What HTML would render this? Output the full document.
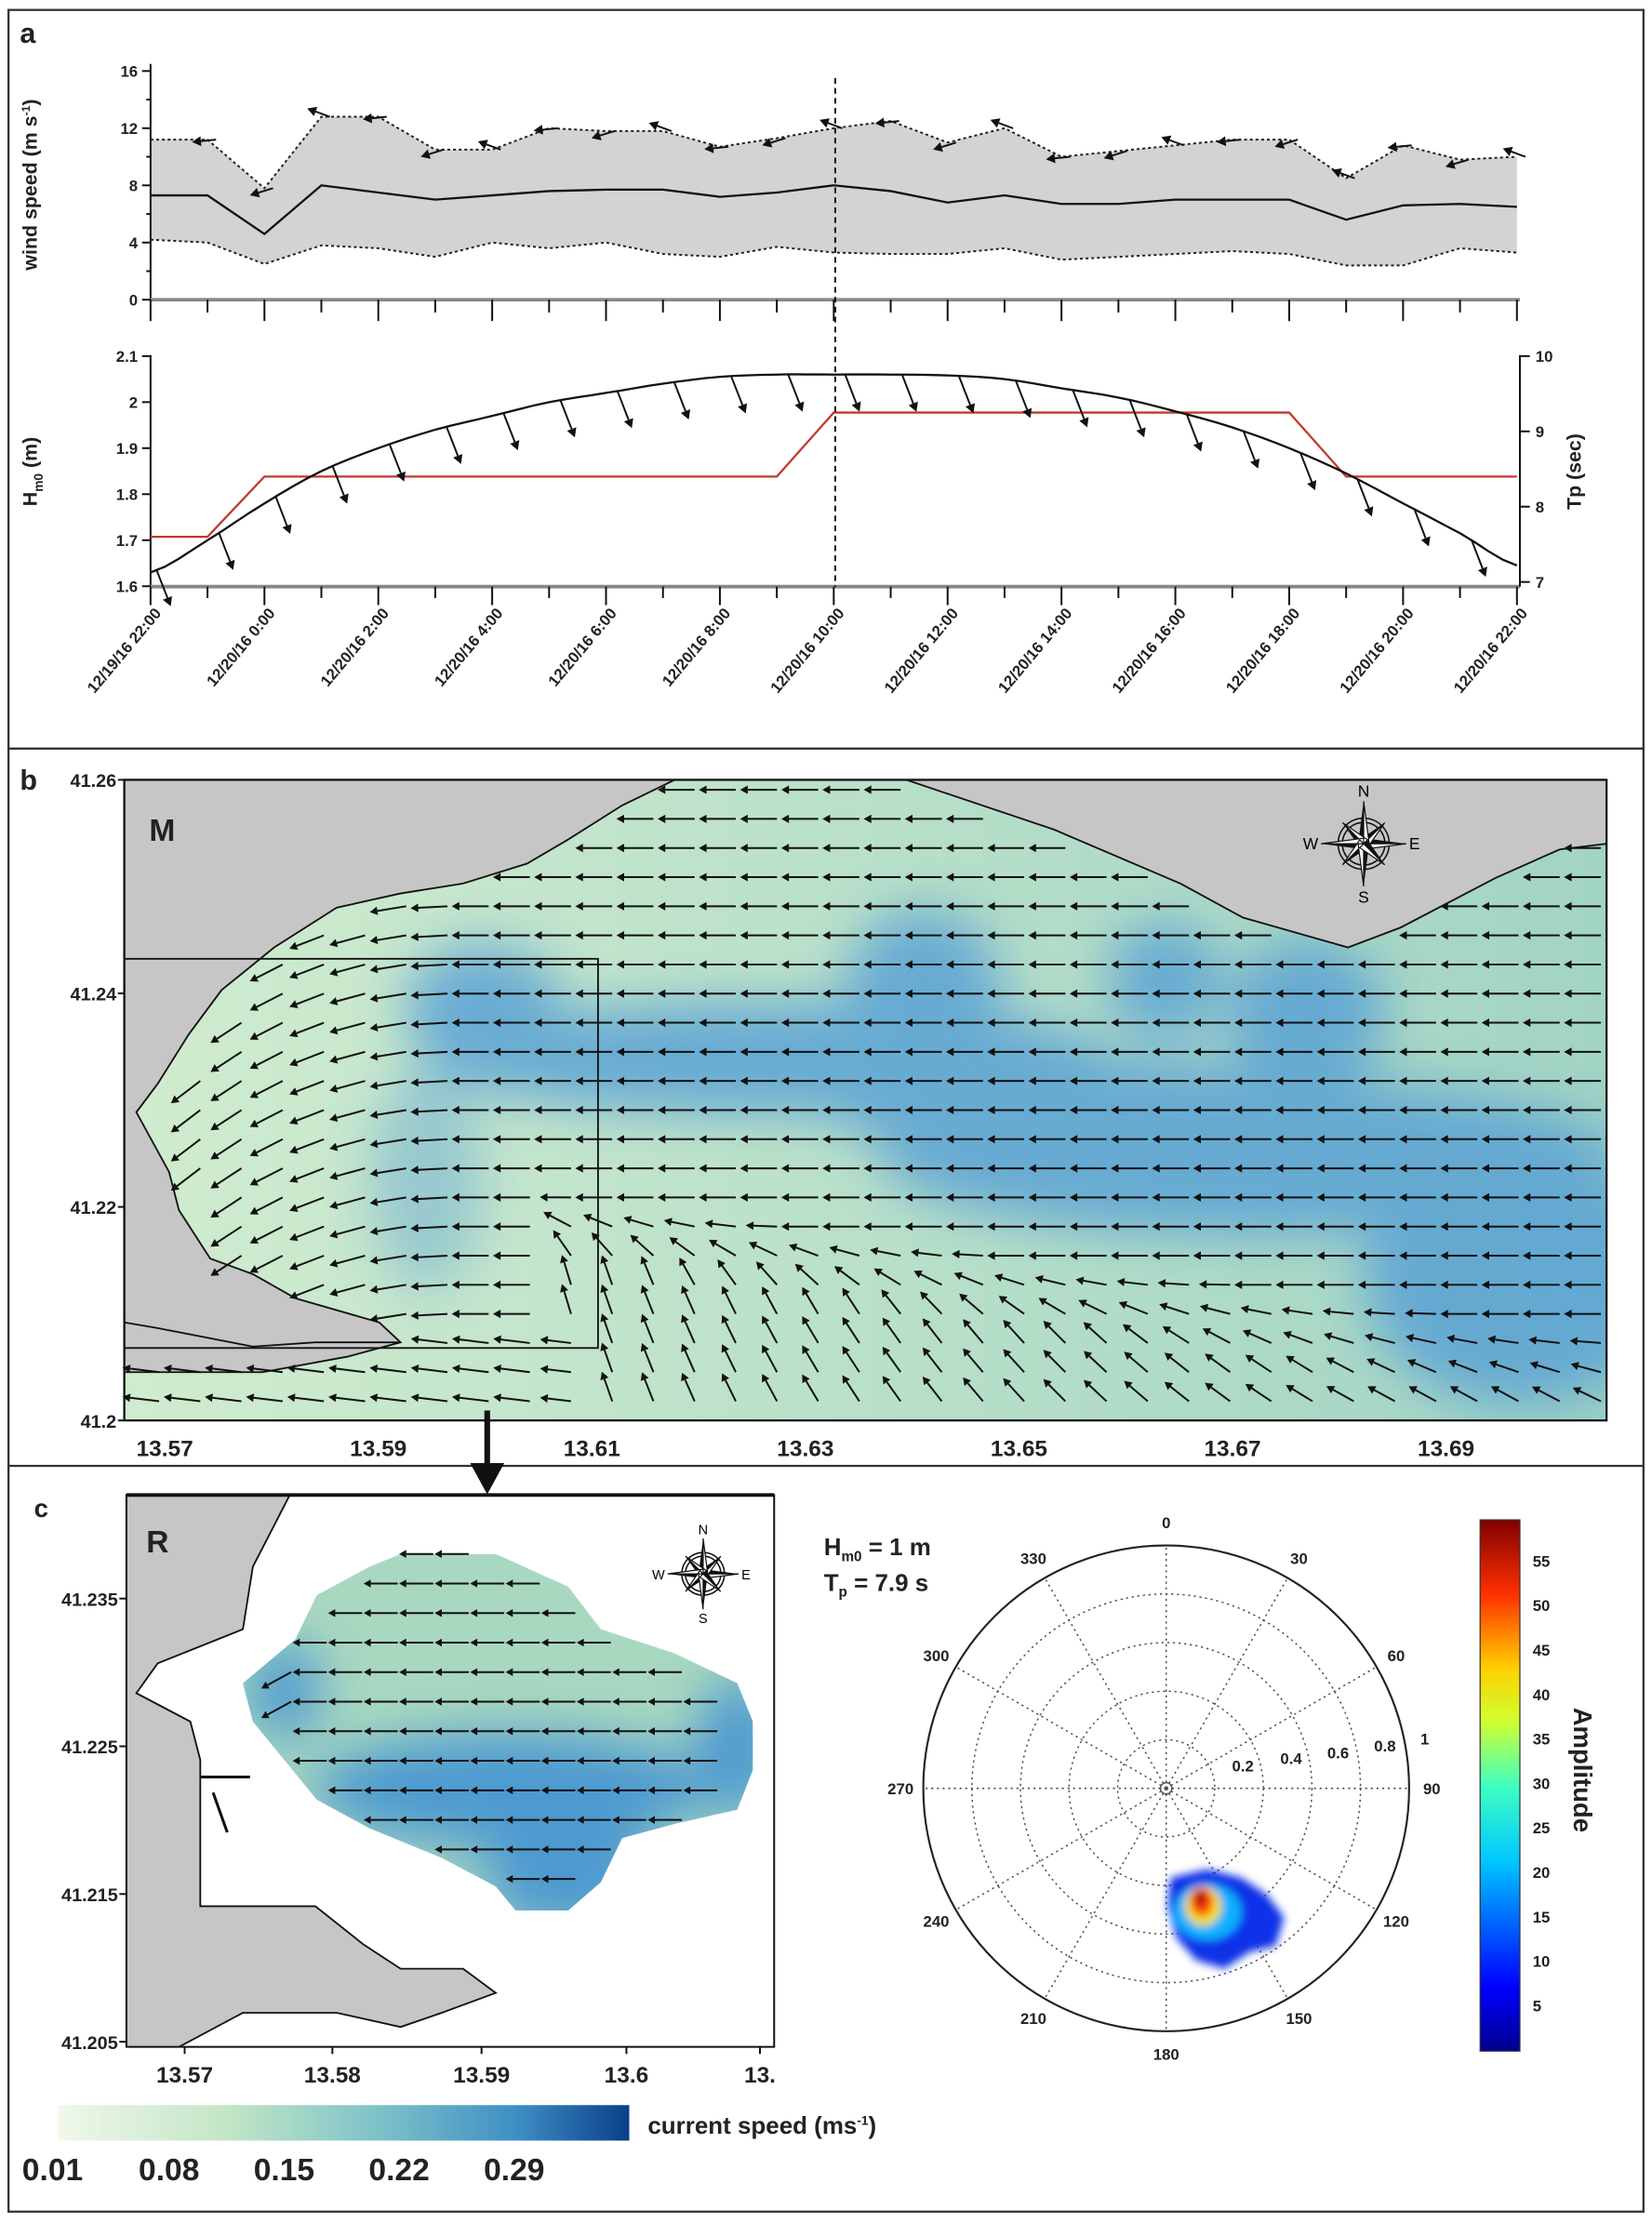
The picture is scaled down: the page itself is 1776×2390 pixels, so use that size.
<!DOCTYPE html>
<html><head><meta charset="utf-8">
<style>
html,body{margin:0;padding:0;background:#fff;}
svg{display:block;}
text{font-family:"Liberation Sans",Arial,sans-serif;}
.ax{stroke:#111;stroke-width:1.3;fill:none;}
</style></head>
<body>
<svg id="s" width="1776" height="2390" viewBox="0 0 1163 1565" preserveAspectRatio="none" xmlns="http://www.w3.org/2000/svg">
<defs>
<filter id="bl" x="-50%" y="-50%" width="200%" height="200%"><feGaussianBlur stdDeviation="18"/></filter>
<filter id="bl2" x="-50%" y="-50%" width="200%" height="200%"><feGaussianBlur stdDeviation="3"/></filter>
<linearGradient id="wg" x1="0" x2="1" y1="0" y2="0"><stop offset="0" stop-color="#d0ecce"/><stop offset="1" stop-color="#a2d4c4"/></linearGradient>
<linearGradient id="cs" x1="0" x2="1"><stop offset="0" stop-color="#f0f8ea"/><stop offset="0.3" stop-color="#c2e5c6"/><stop offset="0.55" stop-color="#80c4c8"/><stop offset="0.8" stop-color="#3f8fc6"/><stop offset="1" stop-color="#0a3f88"/></linearGradient>
<linearGradient id="jet" x1="0" x2="0" y1="1" y2="0"><stop offset="0" stop-color="#00008f"/><stop offset="0.12" stop-color="#0000ff"/><stop offset="0.36" stop-color="#00c8ff"/><stop offset="0.5" stop-color="#40ffc0"/><stop offset="0.62" stop-color="#d0ff30"/><stop offset="0.72" stop-color="#ffd000"/><stop offset="0.86" stop-color="#ff3000"/><stop offset="1" stop-color="#800000"/></linearGradient>
<clipPath id="cb"><polygon id="wpb" points=""/></clipPath>
<clipPath id="cc"><polygon id="wpc" points=""/></clipPath>
</defs>
<g id="root"></g>
</svg>
<script>
const root=document.getElementById('root');
let H='';
function P(s){H+=s;}
function txt(x,y,s,o){o=o||{};P(`<text x="${x}" y="${y}" ${o.a?`text-anchor="${o.a}"`:''} font-size="${o.fs||11}" font-weight="${o.fw||'bold'}" fill="${o.c||'#222'}" ${o.tr?`transform="${o.tr}"`:''}>${s}</text>`);}
function arrow(x,y,ang,len,hw,col,sw){col=col||'#111';sw=sw||1.3;
 const dx=Math.cos(ang),dy=-Math.sin(ang);const tx=x+dx*len,ty=y+dy*len;
 const hl=hw*1.8;const bx=tx-dx*hl,by=ty-dy*hl;const px=-dy,py=dx;
 P(`<line x1="${x.toFixed(1)}" y1="${y.toFixed(1)}" x2="${bx.toFixed(1)}" y2="${by.toFixed(1)}" stroke="${col}" stroke-width="${sw}"/><polygon points="${tx.toFixed(1)},${ty.toFixed(1)} ${(bx+px*hw).toFixed(1)},${(by+py*hw).toFixed(1)} ${(bx-px*hw).toFixed(1)},${(by-py*hw).toFixed(1)}" fill="${col}"/>`);}
P(`<rect x="6" y="7" width="1151" height="1550" fill="none" stroke="#333" stroke-width="1.5"/>`);
P(`<line x1="6" y1="527" x2="1157" y2="527" stroke="#333" stroke-width="1.5"/><line x1="6" y1="1032" x2="1157" y2="1032" stroke="#333" stroke-width="1.5"/>`);
// ===== panel a
txt(14,30,'a',{fs:20});
const X=h=>106+h*40.08;
const WY=v=>211-v*(161/16);
const mean=[7.3,7.3,4.6,8,7.5,7,7.3,7.6,7.7,7.7,7.2,7.5,8,7.6,6.8,7.3,6.7,6.7,7,7,7,5.6,6.6,6.7,6.5];
const up=[11.2,11.2,7.8,12.8,12.8,10.5,10.5,12,11.8,11.8,10.7,11.3,12,12.5,11,12,10,10.4,10.8,11.2,11.2,8.5,10.8,9.8,10];
const lo=[4.2,4,2.5,3.8,3.6,3,4,3.6,4,3.2,3,3.7,3.3,3.2,3.2,3.6,2.8,3,3.2,3.4,3.2,2.4,2.4,3.6,3.3];
let poly=up.map((v,i)=>X(i)+','+WY(v)).join(' ')+' '+lo.map((v,i)=>X(i)+','+WY(v)).reverse().join(' ');
P(`<polygon points="${poly}" fill="#d3d3d3"/>`);
P(`<polyline points="${up.map((v,i)=>X(i)+','+WY(v)).join(' ')}" fill="none" stroke="#222" stroke-width="1.3" stroke-dasharray="2,2"/>`);
P(`<polyline points="${lo.map((v,i)=>X(i)+','+WY(v)).join(' ')}" fill="none" stroke="#222" stroke-width="1.3" stroke-dasharray="2,2"/>`);
P(`<polyline points="${mean.map((v,i)=>X(i)+','+WY(v)).join(' ')}" fill="none" stroke="#111" stroke-width="1.5"/>`);
for(let i=1;i<=24;i++){const a=Math.PI+(i%3==0?-0.35:(i%3==1?0.1:0.3));arrow(X(i)+6,WY(up[i]),a,17,3.5);}
P(`<line x1="106" y1="45" x2="106" y2="211" class="ax"/><line x1="106" y1="211" x2="1070" y2="211" stroke="#888" stroke-width="2.5"/>`);
for(let v=0;v<=16;v+=4){P(`<line x1="100" y1="${WY(v)}" x2="106" y2="${WY(v)}" class="ax"/>`);txt(97,WY(v)+4,v,{a:'end'});}
for(let v=2;v<=16;v+=4)P(`<line x1="103" y1="${WY(v)}" x2="106" y2="${WY(v)}" class="ax"/>`);
for(let i=0;i<=24;i++)P(`<line x1="${X(i)}" y1="211" x2="${X(i)}" y2="${i%2?220:226}" class="ax"/>`);
txt(0,0,'wind speed (m s<tspan font-size="8" dy="-5">-1</tspan><tspan dy="5">)</tspan>',{fs:14,a:'middle',tr:'translate(26,130) rotate(-90)'});
const HY=v=>250.7+(2.1-v)*(162/0.5);
const TY=v=>250.7+(10-v)*(159/3);
const hv=[1.63,1.70,1.78,1.85,1.90,1.94,1.97,2.00,2.02,2.04,2.055,2.06,2.06,2.06,2.058,2.05,2.03,2.01,1.98,1.945,1.90,1.845,1.78,1.715,1.645];
P(`<line x1="106" y1="250" x2="106" y2="413" class="ax"/><line x1="106" y1="413" x2="1070" y2="413" stroke="#888" stroke-width="2.5"/><line x1="1070" y1="250" x2="1070" y2="413" class="ax"/>`);
for(let k=0;k<=5;k++){const v=1.6+k*0.1;const y=HY(v);P(`<line x1="100" y1="${y}" x2="106" y2="${y}" class="ax"/>`);txt(97,y+4,(Math.round(v*10)/10).toString(),{a:'end'});}
for(let v=7;v<=10;v++){const y=TY(v);P(`<line x1="1070" y1="${y}" x2="1077" y2="${y}" class="ax"/>`);txt(1081,y+4,v);}
for(let i=0;i<=24;i++)P(`<line x1="${X(i)}" y1="413" x2="${X(i)}" y2="${i%2?421:426}" class="ax"/>`);
const tp=[[0,7.6],[1,7.6],[2,8.4],[11,8.4],[12,9.25],[20,9.25],[21,8.4],[24,8.4]];
P(`<polyline points="${tp.map(p=>X(p[0])+','+TY(p[1])).join(' ')}" fill="none" stroke="#c0392b" stroke-width="1.5"/>`);
let cp=[];for(let t=0;t<=24;t+=0.25){const i=Math.min(23,Math.floor(t)),f=t-i;const a=hv[Math.max(0,i-1)],b=hv[i],c=hv[i+1],d=hv[Math.min(24,i+2)];const v=b+0.5*f*(c-a+f*(2*a-5*b+4*c-d+f*(3*(b-c)+d-a)));cp.push(X(t).toFixed(1)+','+HY(v).toFixed(1));}
P(`<polyline points="${cp.join(' ')}" fill="none" stroke="#111" stroke-width="1.5"/>`);
for(let i=0;i<=23;i++){const t=i==0?0.1:i+0.2;const v=hv[Math.floor(t)]+(hv[Math.ceil(t)]-hv[Math.floor(t)])*(t-Math.floor(t));arrow(X(t),HY(v),-1.2,28,3.5);}
P(`<line x1="588" y1="55" x2="588" y2="413" stroke="#111" stroke-width="1.3" stroke-dasharray="4,3"/>`);
const labs=['12/19/16 22:00','12/20/16 0:00','12/20/16 2:00','12/20/16 4:00','12/20/16 6:00','12/20/16 8:00','12/20/16 10:00','12/20/16 12:00','12/20/16 14:00','12/20/16 16:00','12/20/16 18:00','12/20/16 20:00','12/20/16 22:00'];
labs.forEach((l,k)=>{const x=X(2*k)+8;txt(0,0,l,{a:'end',tr:`translate(${x},432) rotate(-50)`});});
txt(0,0,'H<tspan font-size="9" dy="4">m0</tspan><tspan dy="-4"> (m)</tspan>',{fs:14,a:'middle',tr:'translate(26,332) rotate(-90)'});
txt(0,0,'Tp (sec)',{fs:14,a:'middle',tr:'translate(1113,332) rotate(-90)'});
// ===== panel b
const wb=[[87.5,1000],[87.5,966],[185,966],[245,955],[282,945],[267,931],[208,914],[178,897],[148,886],[126,852],[119,825],[96,783],[111,763],[133,728],[156,697],[193,667],[237,639],[282,629],[326,622],[371,608],[400,591],[438,567],[475,549],[638,549],[742,584],[831,622],[875,646],[949,667],[986,653],[1053,618],[1098,598],[1131,594],[1131,1000]];
document.getElementById('wpb').setAttribute('points',wb.map(p=>p.join(',')).join(' '));
P(`<rect x="87.5" y="549" width="1043.5" height="451" fill="#c6c6c6"/>`);
P(`<g clip-path="url(#cb)"><rect x="87" y="549" width="1044" height="451" fill="url(#wg)"/><g filter="url(#bl)" fill="#5aa2d4" opacity="0.85">
<ellipse cx="340" cy="710" rx="55" ry="45"/><ellipse cx="540" cy="745" rx="240" ry="40"/><ellipse cx="650" cy="700" rx="55" ry="60"/><ellipse cx="920" cy="715" rx="55" ry="55"/><ellipse cx="880" cy="815" rx="260" ry="55"/><ellipse cx="1070" cy="900" rx="110" ry="90"/><ellipse cx="760" cy="780" rx="180" ry="35"/><ellipse cx="820" cy="690" rx="40" ry="40"/><ellipse cx="300" cy="830" rx="40" ry="80" opacity="0.5"/></g></g>`);
P(`<polyline points="${wb.slice(1,-1).map(p=>p.join(',')).join(' ')}" fill="none" stroke="#111" stroke-width="1.2"/>`);
P(`<polyline points="87.5,931 111,935 178,948 222,945 282,945" fill="none" stroke="#111" stroke-width="1.2"/>`);
function inPoly(x,y,pl){let c=false;for(let i=0,j=pl.length-1;i<pl.length;j=i++){const [xi,yi]=pl[i],[xj,yj]=pl[j];if(((yi>y)!=(yj>y))&&(x<(xj-xi)*(y-yi)/(yj-yi)+xi))c=!c;}return c;}
for(let y=556;y<=996;y+=20.5){for(let x=112;x<=1128;x+=29){
 if(!inPoly(x-20,y,wb)||!inPoly(x,y,wb))continue;
 let a=Math.PI,len=26;
 if(x<330&&y<940)a=Math.PI+0.65*Math.min(1,(330-x)/180);
 const yb=845+(x-420)*0.13;
 if(y>yb&&x>400){const t=Math.min(1,(y-yb)/55);const s=Math.max(0.4,1-(x-420)/900);a=Math.PI-t*s*1.25;len=22;}
 if(y>935&&x<=420)a=Math.PI-0.12;
 arrow(x,y,a,len,3);
}}
P(`<rect x="87.5" y="549" width="1043.5" height="451" fill="none" stroke="#111" stroke-width="1.5"/>`);
P(`<rect x="87.5" y="675" width="333.5" height="274" fill="none" stroke="#111" stroke-width="1.2"/>`);
const BY=v=>549+(41.26-v)*(451/0.06);
[41.26,41.24,41.22,41.2].forEach(v=>{const y=BY(v);P(`<line x1="83" y1="${y}" x2="87.5" y2="${y}" class="ax"/>`);txt(82,y+5,v.toString(),{a:'end',fs:13});});
const BX=v=>116+(v-13.57)*(902/0.12);
[13.57,13.59,13.61,13.63,13.65,13.67,13.69].forEach(v=>{const x=BX(v);txt(x,1025,v.toFixed(2),{a:'middle',fs:16});});
txt(14,556,'b',{fs:20});
txt(105,592,'M',{fs:22});
function compass(cx,cy,r){P(`<g stroke="#111" stroke-width="1" fill="none"><circle cx="${cx}" cy="${cy}" r="${r*0.6}"/><circle cx="${cx}" cy="${cy}" r="${r*0.5}"/></g>`);
 for(let k=0;k<8;k++){const a=k*Math.PI/4,L=k%2?r*0.7:r,w=r*0.13;const tx=cx+Math.cos(a)*L,ty=cy-Math.sin(a)*L;const px=-Math.sin(a)*w,py=-Math.cos(a)*w;
 P(`<polygon points="${tx},${ty} ${cx+px},${cy+py} ${cx},${cy}" fill="#111"/><polygon points="${tx},${ty} ${cx-px},${cy-py} ${cx},${cy}" fill="#fff" stroke="#111" stroke-width="0.8"/>`);}
 P(`<text x="${cx}" y="${cy-r-3}" text-anchor="middle" font-size="${r*0.38}" font-family="Liberation Serif">N</text><text x="${cx}" y="${cy+r+r*0.38}" text-anchor="middle" font-size="${r*0.38}" font-family="Liberation Serif">S</text><text x="${cx-r-2}" y="${cy+4}" text-anchor="end" font-size="${r*0.38}" font-family="Liberation Serif">W</text><text x="${cx+r+2}" y="${cy+4}" font-size="${r*0.38}" font-family="Liberation Serif">E</text>`);}
compass(960,594,30);
P(`<line x1="343" y1="993" x2="343" y2="1035" stroke="#111" stroke-width="4"/><polygon points="331,1030 355,1030 343,1052" fill="#111"/>`);
// ===== panel c
txt(24,1068,'c',{fs:18});
P(`<rect x="89" y="1052.5" width="456" height="388.5" fill="#fff"/>`);
const land=[[89,1052.5],[204,1052.5],[178,1103],[171,1147],[111,1171],[96,1192],[134,1212],[141,1239],[141,1342],[178,1342],[222,1342],[256,1369],[282,1386],[326,1386],[349,1403],[311,1417],[282,1427],[237,1417],[171,1417],[126,1441],[89,1441]];
P(`<polygon points="${land.map(p=>p.join(',')).join(' ')}" fill="#c6c6c6"/>`);
P(`<polyline points="${land.slice(1,-1).map(p=>p.join(',')).join(' ')}" fill="none" stroke="#111" stroke-width="1.2"/>`);
P(`<line x1="141" y1="1251" x2="176" y2="1251" stroke="#111" stroke-width="2"/><line x1="150" y1="1262" x2="160" y2="1290" stroke="#111" stroke-width="2"/>`);
const wc=[[282,1094],[349,1094],[400,1117],[423,1147],[475,1164],[519,1185],[530,1212],[530,1246],[519,1274],[475,1284],[438,1294],[423,1325],[400,1345],[363,1345],[349,1328],[311,1308],[260,1287],[223,1267],[178,1212],[171,1185],[208,1154],[223,1123],[260,1103]];
document.getElementById('wpc').setAttribute('points',wc.map(p=>p.join(',')).join(' '));
P(`<g clip-path="url(#cc)"><rect x="150" y="1080" width="400" height="280" fill="#a9d8c0"/><g filter="url(#bl)" fill="#4e9ad0"><ellipse cx="360" cy="1260" rx="140" ry="40"/><ellipse cx="400" cy="1320" rx="60" ry="40"/><ellipse cx="520" cy="1230" rx="30" ry="50"/><ellipse cx="200" cy="1190" rx="25" ry="35"/></g></g>`);
for(let y=1094;y<=1345;y+=20.8){for(let x=180;x<=530;x+=25){if(!inPoly(x,y,wc)||!inPoly(x-22,y,wc))continue;let a=Math.PI;if(x<230)a=Math.PI+0.5;arrow(x,y,a,24,2.8);}}
P(`<rect x="89" y="1052.5" width="456" height="388.5" fill="none" stroke="#111" stroke-width="1.3"/>`);
P(`<line x1="89" y1="1052.5" x2="545" y2="1052.5" stroke="#111" stroke-width="2.5"/>`);
const CY=v=>1125.4+(41.235-v)*(104/0.01);
[41.235,41.225,41.215,41.205].forEach(v=>{const y=CY(v);P(`<line x1="84" y1="${y}" x2="89" y2="${y}" class="ax"/>`);txt(83,y+5,v.toFixed(3),{a:'end',fs:13});});
[[130,'13.57'],[234,'13.58'],[339,'13.59'],[441,'13.6'],[535,'13.']].forEach(p=>{P(`<line x1="${p[0]}" y1="1441" x2="${p[0]}" y2="1446" class="ax"/>`);txt(p[0],1466,p[1],{a:'middle',fs:16});});
txt(103,1093,'R',{fs:22});
compass(495,1108,25);
P(`<rect x="41" y="1482" width="402" height="25" fill="url(#cs)"/>`);
txt(456,1502,'current speed (ms<tspan font-size="9" dy="-6">-1</tspan><tspan dy="6">)</tspan>',{fs:17});
[[37,'0.01'],[119,'0.08'],[200,'0.15'],[281,'0.22'],[362,'0.29']].forEach(p=>txt(p[0],1535,p[1],{a:'middle',fs:22}));
// polar
const pcx=821,pcy=1259,R=171;
P(`<circle cx="${pcx}" cy="${pcy}" r="${R}" fill="#fff" stroke="#222" stroke-width="1.4"/>`);
for(let k=1;k<=4;k++)P(`<circle cx="${pcx}" cy="${pcy}" r="${R*k/5}" fill="none" stroke="#555" stroke-width="1" stroke-dasharray="1.5,2.5"/>`);
P(`<circle cx="${pcx}" cy="${pcy}" r="4" fill="none" stroke="#555" stroke-width="1"/>`);
for(let d=0;d<360;d+=30){const a=d*Math.PI/180;P(`<line x1="${pcx}" y1="${pcy}" x2="${pcx+R*Math.sin(a)}" y2="${pcy-R*Math.cos(a)}" stroke="#555" stroke-width="1" stroke-dasharray="1.5,2.5"/>`);
 const lr=R+16;txt((pcx+lr*Math.sin(a)).toFixed(1),(pcy-lr*Math.cos(a)+4).toFixed(1),d,{a:'middle',fs:11});}
[[875,1247,'0.2'],[909,1242,'0.4'],[942,1238,'0.6'],[975,1233,'0.8'],[1003,1228,'1']].forEach(p=>txt(p[0],p[1],p[2],{a:'middle',fs:11}));
P(`<g filter="url(#bl2)"><path d="M824,1322 L850,1316 L874,1322 L892,1334 L904,1350 L898,1370 L880,1374 L862,1386 L842,1380 L828,1364 L822,1342Z" fill="#1030e8"/><ellipse cx="850" cy="1346" rx="24" ry="20" fill="#10b0ff"/><ellipse cx="847" cy="1342" rx="13" ry="14" fill="#f0e020"/><ellipse cx="846" cy="1339" rx="8" ry="10" fill="#ff4010"/><ellipse cx="845" cy="1336" rx="4" ry="5" fill="#a00000"/></g>`);
txt(580,1095,'H<tspan font-size="10" dy="4">m0</tspan><tspan dy="-4"> = 1 m</tspan>',{fs:17});
txt(580,1120,'T<tspan font-size="10" dy="4">p</tspan><tspan dy="-4"> = 7.9 s</tspan>',{fs:17});
P(`<rect x="1042" y="1070" width="28" height="374" fill="url(#jet)" stroke="#333" stroke-width="0.8"/>`);
for(let v=5;v<=55;v+=5){const y=1412-(v-5)*(313/50);txt(1079,y+4,v,{fs:11});}
txt(0,0,'Amplitude',{fs:18,a:'middle',tr:'translate(1108,1246) rotate(90)'});
root.innerHTML=H;
</script>
</body></html>
